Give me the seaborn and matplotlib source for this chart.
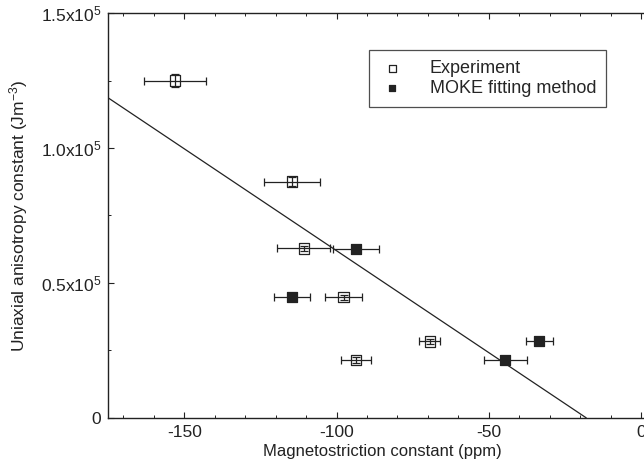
import matplotlib
matplotlib.use("Agg")
import matplotlib.pyplot as plt
import seaborn as sns
import pandas as pd
from matplotlib.ticker import MultipleLocator, FixedLocator

# Experiment (open squares)
exp_x = [-153.0, -114.6, -110.8, -97.7, -93.6, -69.4]
exp_y = [125.0e3, 87.6e3, 62.8e3, 44.7e3, 21.4e3, 28.3e3]
exp_xerr = [10.2, 9.1, 8.8, 6.0, 4.8, 3.5]
exp_yerr = [2.5e3, 1.5e3, 1.0e3, 1.0e3, 1.0e3, 1.0e3]

# MOKE fitting method (filled squares)
moke_x = [-93.6, -114.7, -44.6, -33.4]
moke_y = [62.7e3, 44.7e3, 21.4e3, 28.3e3]
moke_xerr = [7.7, 6.0, 7.0, 4.4]

# linear fit line
fit_x = [-175, -18.0]
fit_y = [118.6e3, 0]

x_ticks = [-150, -100, -50, 0]
x_labels = ["-150", "-100", "-50", "0"]
y_ticks = [0, 0.5e5, 1.0e5, 1.5e5]
y_labels = ["0", "0.5x10$^{5}$", "1.0x10$^{5}$", "1.5x10$^{5}$"]

sns.set_theme(style="ticks")
plt.rcParams['font.family'] = ['Liberation Sans', 'DejaVu Sans']
plt.rcParams['mathtext.fontset'] = 'custom'
plt.rcParams['mathtext.rm'] = 'Liberation Sans'
plt.rcParams['mathtext.it'] = 'Liberation Sans'

fig = plt.figure(figsize=(6.44, 4.70), dpi=100)
# right edge of the frame lies just past the picture, as in the reference crop
ax = fig.add_axes([0.168, 0.111, 0.851, 0.861])

ink = "#222222"

sns.lineplot(x=fit_x, y=fit_y, ax=ax, color=ink, lw=0.9)

ax.errorbar(exp_x, exp_y, xerr=exp_xerr, yerr=exp_yerr, fmt="none",
            ecolor=ink, elinewidth=0.9, capsize=3, capthick=0.9, zorder=3)
ax.errorbar(moke_x, moke_y, xerr=moke_xerr, fmt="none",
            ecolor=ink, elinewidth=0.9, capsize=3, capthick=0.9, zorder=3)

df_exp = pd.DataFrame({"x": exp_x, "y": exp_y})
df_moke = pd.DataFrame({"x": moke_x, "y": moke_y})
sns.scatterplot(data=df_exp, x="x", y="y", ax=ax, marker="s", s=55,
                facecolor="none", edgecolor=ink, linewidth=0.9, zorder=4,
                label="Experiment")
sns.scatterplot(data=df_moke, x="x", y="y", ax=ax, marker="s", s=55,
                color=ink, edgecolor=ink, linewidth=0.9, zorder=4,
                label="MOKE fitting method")

ax.set_xlim(-175, 5)
ax.set_ylim(0, 1.5e5)
ax.xaxis.set_major_locator(FixedLocator(x_ticks))
ax.set_xticklabels(x_labels)
ax.xaxis.set_minor_locator(MultipleLocator(10))
ax.yaxis.set_major_locator(FixedLocator(y_ticks))
ax.set_yticklabels(y_labels)
ax.yaxis.set_minor_locator(MultipleLocator(2.5e4))
ax.tick_params(which="both", direction="in", top=True, right=True,
               colors=ink, labelsize=12.5, labelcolor=ink)
ax.tick_params(which="major", length=4, width=0.8, pad=5)
ax.tick_params(which="minor", length=2.5, width=0.7)
for s in ax.spines.values():
    s.set_color(ink)
    s.set_linewidth(1.0)

ax.set_xlabel("Magnetostriction constant (ppm)", fontsize=12, color=ink, labelpad=3)
ax.set_ylabel("Uniaxial anisotropy constant (Jm$^{-3}$)", fontsize=12.5, color=ink, labelpad=8)

leg = ax.legend(loc="upper right", bbox_to_anchor=(0.909, 0.908), fontsize=13,
                frameon=True, fancybox=False, markerscale=0.65,
                handlelength=1.45, handletextpad=1.35, borderpad=0.55,
                labelspacing=0.15, borderaxespad=0)
leg.get_frame().set_edgecolor(ink)
leg.get_frame().set_linewidth(0.9)

fig.savefig("out.png", dpi=100)
